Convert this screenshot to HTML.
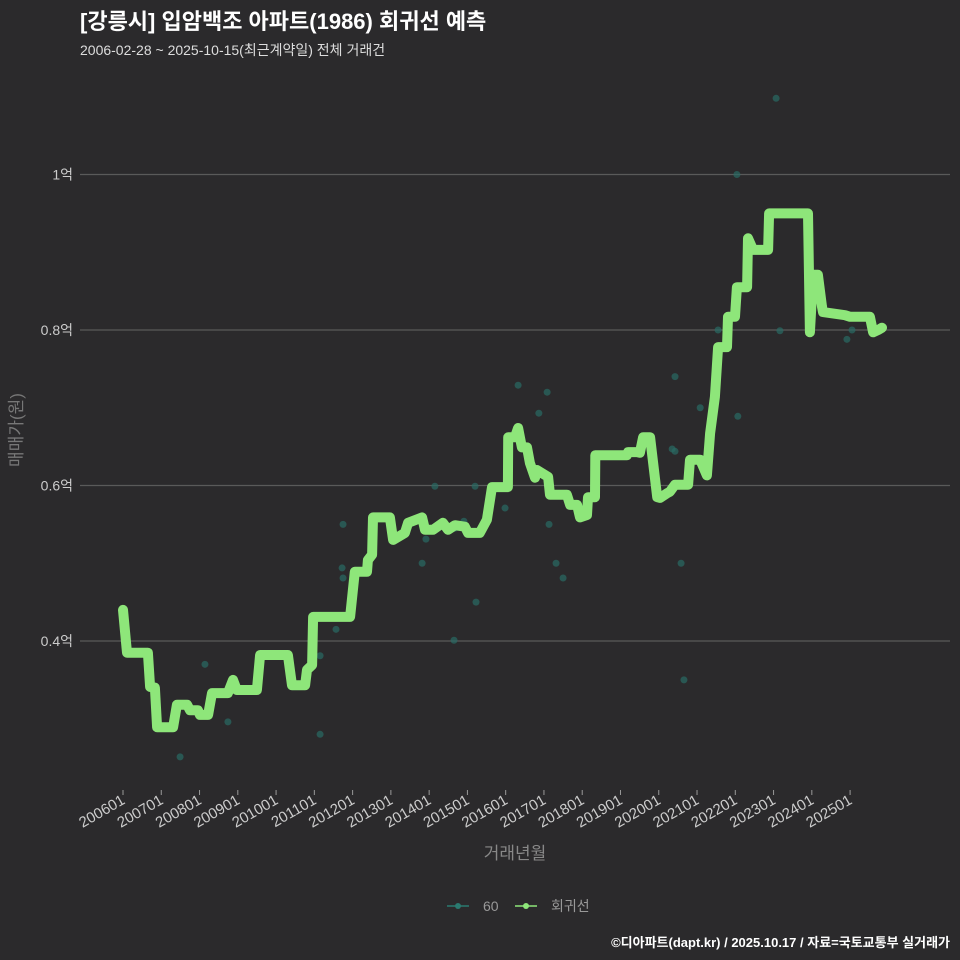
<!DOCTYPE html>
<html><head><meta charset="utf-8"><style>
html,body{margin:0;padding:0;background:#2b2a2c;}
body{width:960px;height:960px;overflow:hidden;position:fixed;font-family:"Liberation Sans","Noto Sans CJK KR",sans-serif;}
svg{display:block;}
</style></head><body>
<svg id="chart" width="960" height="960" xmlns="http://www.w3.org/2000/svg" style="font-family:'Liberation Sans','Noto Sans CJK KR',sans-serif">
<rect width="960" height="960" fill="#2b2a2c"/>
<text x="80" y="29" fill="#ffffff" font-size="22" font-weight="bold">[강릉시] 입암백조 아파트(1986) 회귀선 예측</text>
<text x="80" y="55" fill="#dddddd" font-size="14">2006-02-28 ~ 2025-10-15(최근계약일) 전체 거래건</text>
<g id="grid"></g><g id="pts"></g><g id="line"></g><g id="xaxis"></g>
<text transform="translate(22,430) rotate(-90)" text-anchor="middle" fill="#777" font-size="17">매매가(원)</text>
<text x="515" y="859" text-anchor="middle" fill="#888" font-size="17">거래년월</text>
<g>
<g>
<line x1="447" y1="906" x2="469" y2="906" stroke="#2a7a70" stroke-width="1.5"/><circle cx="458" cy="906" r="3" fill="#2a7a70"/>
<text x="483" y="911" fill="#999" font-size="14">60</text></g>
<g>
<line x1="515" y1="906" x2="537" y2="906" stroke="#8ee67a" stroke-width="1.5"/><circle cx="526" cy="906" r="3" fill="#8ee67a"/>
<text x="551" y="911" fill="#999" font-size="14">회귀선</text></g>
</g>
<text x="950" y="947" text-anchor="end" fill="#ffffff" font-size="13" font-weight="bold">©디아파트(dapt.kr) / 2025.10.17 / 자료=국토교통부 실거래가</text>
</svg>
<script>
const yTicks=[0.4,0.6,0.8,1.0];
const yTickLabels=["0.4억","0.6억","0.8억","1억"];
const xTickLabels=["200601","200701","200801","200901","201001","201101","201201","201301","201401","201501","201601","201701","201801","201901","202001","202101","202201","202301","202401","202501"];
const lineMonths=[0,1.25,7.8,8.5,10,10.7,15.7,16.9,20.1,21,23.5,24.1,26.7,27.9,32.9,34.5,35.7,42,43,51.7,53,57.1,57.7,59.3,59.6,71.2,72.7,76.5,76.8,78.1,78.4,83.7,84.7,88.4,89.4,93.8,94.7,97.2,100.3,101.9,104.1,107.2,108.2,111.9,114.1,115.7,120.7,120.8,122.9,123.9,125.1,126.7,127.6,129.2,129.8,133.3,133.9,139.2,140.2,142.4,143.3,145.5,145.8,148,148.1,158,158.4,161.2,162.1,163.1,165.3,167.5,168.4,170.6,171.5,173.1,177.2,177.8,181,183.1,184.1,185.6,186.6,189.4,189.7,191.9,192.5,195.7,196,197.6,202.3,202.6,214.8,215.4,216.4,217.9,219.2,219.5,226.4,228,234.2,235.2,236.8,238];
const lineValues=[0.440,0.385,0.385,0.341,0.340,0.289,0.289,0.318,0.318,0.311,0.311,0.305,0.305,0.333,0.333,0.350,0.337,0.337,0.382,0.382,0.343,0.343,0.363,0.369,0.431,0.431,0.489,0.489,0.504,0.511,0.559,0.559,0.530,0.539,0.552,0.559,0.543,0.543,0.552,0.543,0.549,0.547,0.539,0.539,0.556,0.598,0.598,0.662,0.662,0.674,0.649,0.649,0.629,0.610,0.620,0.611,0.588,0.588,0.575,0.575,0.559,0.562,0.585,0.585,0.639,0.639,0.643,0.643,0.642,0.662,0.662,0.585,0.584,0.590,0.592,0.601,0.601,0.633,0.633,0.613,0.667,0.714,0.778,0.778,0.817,0.817,0.855,0.855,0.918,0.903,0.903,0.950,0.950,0.797,0.871,0.871,0.830,0.823,0.819,0.817,0.817,0.797,0.800,0.803];
const pointMonths=[17.9,32.9,25.7,61.8,61.8,66.8,68.7,69,69,93.8,95,97.8,100.7,103.8,104.1,106.9,110.7,110.4,119.8,123.9,130.4,133,133.6,135.8,138,162.1,172.2,173.1,173.1,175,175.9,181,192.5,192.8,186.6,204.8,206,216.4,227,228.6];
const pointValues=[0.251,0.296,0.370,0.280,0.381,0.415,0.494,0.481,0.550,0.500,0.531,0.599,0.548,0.401,0.545,0.554,0.450,0.599,0.571,0.729,0.693,0.720,0.550,0.500,0.481,0.642,0.647,0.740,0.644,0.500,0.350,0.700,1.0,0.689,0.800,1.098,0.799,0.868,0.788,0.800];

const NS="http://www.w3.org/2000/svg";
const xS=m=>123+m*3.189;
const yS=v=>641-(v-0.4)/0.2*155.5;
function mk(t,a,p){const e=document.createElementNS(NS,t);for(const k in a)e.setAttribute(k,a[k]);p.appendChild(e);return e;}
const grid=document.getElementById('grid');
yTicks.forEach((v,i)=>{
  const l=mk('line',{x1:80,x2:950,y1:yS(v),y2:yS(v),stroke:'#5a5a5a','stroke-width':1.2},grid);
  
  
  const t=mk('text',{x:73,y:yS(v)+5,'text-anchor':'end',fill:'#cccccc','font-size':14},grid);
  t.textContent=yTickLabels[i];
  
  
});
const xa=document.getElementById('xaxis');
xTickLabels.forEach((s,i)=>{
  const x=xS(i*12);
  const tk=mk('line',{x1:x,x2:x,y1:790,y2:795,stroke:'#999','stroke-width':1},xa);
  
  
  const t=mk('text',{transform:`translate(${x+3},${803}) rotate(-30)`,'text-anchor':'end',fill:'#cccccc','font-size':15},xa);
  t.textContent=s;
  
  
});
const pts=document.getElementById('pts');
pointMonths.forEach((m,i)=>{
  const c=mk('circle',{cx:xS(m),cy:yS(pointValues[i]),r:3.5,fill:'#2a6b64','fill-opacity':0.7},pts);
  
  
});
const d=lineMonths.map((m,i)=>(i?'L':'M')+xS(m).toFixed(1)+','+yS(lineValues[i]).toFixed(1)).join(' ');
const p=mk('path',{d:d,fill:'none',stroke:'#8ee67a','stroke-width':10,'stroke-linejoin':'round','stroke-linecap':'round'},document.getElementById('line'));


</script>
</body></html>
